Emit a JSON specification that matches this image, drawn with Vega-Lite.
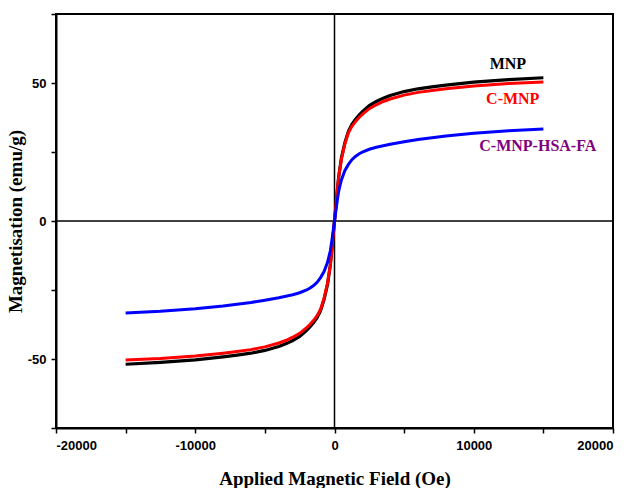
{
  "$schema": "https://vega.github.io/schema/vega-lite/v6.json",
  "autosize": "none",
  "width": 557,
  "height": 414,
  "padding": {"left": 56, "top": 14, "right": 20, "bottom": 60},
  "background": "white",
  "config": {"view": {"stroke": "black", "strokeWidth": 2}},
  "datasets": {
    "curves": [
      {"s": "MNP", "H": -15000, "M": -51.9}, {"s": "MNP", "H": -12500, "M": -51.2}, {"s": "MNP", "H": -10000, "M": -50.3}, {"s": "MNP", "H": -8000, "M": -49.2}, {"s": "MNP", "H": -7000, "M": -48.6}, {"s": "MNP", "H": -6000, "M": -47.9}, {"s": "MNP", "H": -5000, "M": -46.9}, {"s": "MNP", "H": -4000, "M": -45.5}, {"s": "MNP", "H": -3500, "M": -44.5}, {"s": "MNP", "H": -3000, "M": -43.3}, {"s": "MNP", "H": -2500, "M": -41.8}, {"s": "MNP", "H": -2000, "M": -39.6}, {"s": "MNP", "H": -1750, "M": -38.3}, {"s": "MNP", "H": -1500, "M": -36.8}, {"s": "MNP", "H": -1250, "M": -35}, {"s": "MNP", "H": -1000, "M": -32.5}, {"s": "MNP", "H": -750, "M": -28.5}, {"s": "MNP", "H": -500, "M": -23}, {"s": "MNP", "H": -300, "M": -16}, {"s": "MNP", "H": -200, "M": -11}, {"s": "MNP", "H": -100, "M": -5.5},
      {"s": "MNP", "H": 0, "M": 0},
      {"s": "MNP", "H": 100, "M": 5.5}, {"s": "MNP", "H": 200, "M": 11}, {"s": "MNP", "H": 300, "M": 16}, {"s": "MNP", "H": 500, "M": 23}, {"s": "MNP", "H": 750, "M": 28.5}, {"s": "MNP", "H": 1000, "M": 32.5}, {"s": "MNP", "H": 1250, "M": 35}, {"s": "MNP", "H": 1500, "M": 36.8}, {"s": "MNP", "H": 1750, "M": 38.3}, {"s": "MNP", "H": 2000, "M": 39.6}, {"s": "MNP", "H": 2500, "M": 41.8}, {"s": "MNP", "H": 3000, "M": 43.3}, {"s": "MNP", "H": 3500, "M": 44.5}, {"s": "MNP", "H": 4000, "M": 45.5}, {"s": "MNP", "H": 5000, "M": 46.9}, {"s": "MNP", "H": 6000, "M": 47.9}, {"s": "MNP", "H": 7000, "M": 48.6}, {"s": "MNP", "H": 8000, "M": 49.2}, {"s": "MNP", "H": 10000, "M": 50.3}, {"s": "MNP", "H": 12500, "M": 51.2}, {"s": "MNP", "H": 15000, "M": 51.9},

      {"s": "C-MNP", "H": -15000, "M": -50.4}, {"s": "C-MNP", "H": -12500, "M": -49.8}, {"s": "C-MNP", "H": -10000, "M": -48.9}, {"s": "C-MNP", "H": -8000, "M": -47.9}, {"s": "C-MNP", "H": -7000, "M": -47.3}, {"s": "C-MNP", "H": -6000, "M": -46.6}, {"s": "C-MNP", "H": -5000, "M": -45.6}, {"s": "C-MNP", "H": -4000, "M": -44.2}, {"s": "C-MNP", "H": -3500, "M": -43.3}, {"s": "C-MNP", "H": -3000, "M": -42.1}, {"s": "C-MNP", "H": -2500, "M": -40.7}, {"s": "C-MNP", "H": -2000, "M": -38.6}, {"s": "C-MNP", "H": -1750, "M": -37.4}, {"s": "C-MNP", "H": -1500, "M": -36}, {"s": "C-MNP", "H": -1250, "M": -34.3}, {"s": "C-MNP", "H": -1000, "M": -32}, {"s": "C-MNP", "H": -750, "M": -28}, {"s": "C-MNP", "H": -500, "M": -22.5}, {"s": "C-MNP", "H": -300, "M": -16}, {"s": "C-MNP", "H": -200, "M": -11}, {"s": "C-MNP", "H": -100, "M": -5.5},
      {"s": "C-MNP", "H": 0, "M": 0},
      {"s": "C-MNP", "H": 100, "M": 5.5}, {"s": "C-MNP", "H": 200, "M": 11}, {"s": "C-MNP", "H": 300, "M": 16}, {"s": "C-MNP", "H": 500, "M": 22.5}, {"s": "C-MNP", "H": 750, "M": 28}, {"s": "C-MNP", "H": 1000, "M": 32}, {"s": "C-MNP", "H": 1250, "M": 34.3}, {"s": "C-MNP", "H": 1500, "M": 36}, {"s": "C-MNP", "H": 1750, "M": 37.4}, {"s": "C-MNP", "H": 2000, "M": 38.6}, {"s": "C-MNP", "H": 2500, "M": 40.7}, {"s": "C-MNP", "H": 3000, "M": 42.1}, {"s": "C-MNP", "H": 3500, "M": 43.3}, {"s": "C-MNP", "H": 4000, "M": 44.2}, {"s": "C-MNP", "H": 5000, "M": 45.6}, {"s": "C-MNP", "H": 6000, "M": 46.6}, {"s": "C-MNP", "H": 7000, "M": 47.3}, {"s": "C-MNP", "H": 8000, "M": 47.9}, {"s": "C-MNP", "H": 10000, "M": 48.9}, {"s": "C-MNP", "H": 12500, "M": 49.8}, {"s": "C-MNP", "H": 15000, "M": 50.4},

      {"s": "C-MNP-HSA-FA", "H": -15000, "M": -33.3}, {"s": "C-MNP-HSA-FA", "H": -12500, "M": -32.7}, {"s": "C-MNP-HSA-FA", "H": -10000, "M": -31.8}, {"s": "C-MNP-HSA-FA", "H": -8000, "M": -30.8}, {"s": "C-MNP-HSA-FA", "H": -6000, "M": -29.5}, {"s": "C-MNP-HSA-FA", "H": -5000, "M": -28.7}, {"s": "C-MNP-HSA-FA", "H": -4000, "M": -27.8}, {"s": "C-MNP-HSA-FA", "H": -3000, "M": -26.7}, {"s": "C-MNP-HSA-FA", "H": -2500, "M": -26}, {"s": "C-MNP-HSA-FA", "H": -2000, "M": -25}, {"s": "C-MNP-HSA-FA", "H": -1750, "M": -24.3}, {"s": "C-MNP-HSA-FA", "H": -1500, "M": -23.4}, {"s": "C-MNP-HSA-FA", "H": -1250, "M": -22.2}, {"s": "C-MNP-HSA-FA", "H": -1000, "M": -20.5}, {"s": "C-MNP-HSA-FA", "H": -750, "M": -18.3}, {"s": "C-MNP-HSA-FA", "H": -500, "M": -15}, {"s": "C-MNP-HSA-FA", "H": -300, "M": -10.8}, {"s": "C-MNP-HSA-FA", "H": -200, "M": -7.5}, {"s": "C-MNP-HSA-FA", "H": -100, "M": -3.8},
      {"s": "C-MNP-HSA-FA", "H": 0, "M": 0},
      {"s": "C-MNP-HSA-FA", "H": 100, "M": 3.8}, {"s": "C-MNP-HSA-FA", "H": 200, "M": 7.5}, {"s": "C-MNP-HSA-FA", "H": 300, "M": 10.8}, {"s": "C-MNP-HSA-FA", "H": 500, "M": 15}, {"s": "C-MNP-HSA-FA", "H": 750, "M": 18.3}, {"s": "C-MNP-HSA-FA", "H": 1000, "M": 20.5}, {"s": "C-MNP-HSA-FA", "H": 1250, "M": 22.2}, {"s": "C-MNP-HSA-FA", "H": 1500, "M": 23.4}, {"s": "C-MNP-HSA-FA", "H": 1750, "M": 24.3}, {"s": "C-MNP-HSA-FA", "H": 2000, "M": 25}, {"s": "C-MNP-HSA-FA", "H": 2500, "M": 26}, {"s": "C-MNP-HSA-FA", "H": 3000, "M": 26.7}, {"s": "C-MNP-HSA-FA", "H": 4000, "M": 27.8}, {"s": "C-MNP-HSA-FA", "H": 5000, "M": 28.7}, {"s": "C-MNP-HSA-FA", "H": 6000, "M": 29.5}, {"s": "C-MNP-HSA-FA", "H": 8000, "M": 30.8}, {"s": "C-MNP-HSA-FA", "H": 10000, "M": 31.8}, {"s": "C-MNP-HSA-FA", "H": 12500, "M": 32.7}, {"s": "C-MNP-HSA-FA", "H": 15000, "M": 33.3}
    ],
    "labels": [
      {"label": "MNP", "H": 12450, "M": 56.8, "c": "black"},
      {"label": "C-MNP", "H": 12800, "M": 44.2, "c": "red"},
      {"label": "C-MNP-HSA-FA", "H": 14600, "M": 27.3, "c": "purple"}
    ],
    "zero": [{"v": 0}]
  },
  "layer": [
    {
      "data": {"name": "zero"},
      "mark": {"type": "rule", "color": "black", "strokeWidth": 1.5},
      "encoding": {
        "x": {"field": "v", "type": "quantitative", "scale": {"domain": [-20000, 20000], "nice": false},
          "axis": {"title": "Applied Magnetic Field (Oe)", "values": [-20000, -15000, -10000, -5000, 0, 5000, 10000, 15000, 20000],
            "labelExpr": "datum.value % 10000 == 0 ? '' + datum.value : ''",
            "grid": false, "domainColor": "black", "domainWidth": 2, "tickColor": "black", "tickWidth": 1.5, "tickSize": 5,
            "labelFont": "Liberation Sans", "labelFontWeight": "bold", "labelFontSize": 13, "labelColor": "black", "labelPadding": 6,
            "titleFont": "Liberation Serif", "titleFontWeight": "bold", "titleFontSize": 19, "titleColor": "black", "titlePadding": 17}}
      }
    },
    {
      "data": {"name": "zero"},
      "mark": {"type": "rule", "color": "black", "strokeWidth": 1.5},
      "encoding": {
        "y": {"field": "v", "type": "quantitative", "scale": {"domain": [-75, 75], "nice": false},
          "axis": {"title": "Magnetisation (emu/g)", "values": [-75, -50, -25, 0, 25, 50, 75],
            "labelExpr": "datum.value % 50 == 0 ? '' + datum.value : ''",
            "grid": false, "domainColor": "black", "domainWidth": 2, "tickColor": "black", "tickWidth": 1.5, "tickSize": 5,
            "labelFont": "Liberation Sans", "labelFontWeight": "bold", "labelFontSize": 13, "labelColor": "black", "labelPadding": 5,
            "titleFont": "Liberation Serif", "titleFontWeight": "bold", "titleFontSize": 19, "titleColor": "black", "titlePadding": 2}}
      }
    },
    {
      "data": {"name": "curves"},
      "transform": [{"filter": "datum.s == 'MNP'"}],
      "mark": {"type": "line", "color": "black", "strokeWidth": 3.2},
      "encoding": {"x": {"field": "H", "type": "quantitative"}, "y": {"field": "M", "type": "quantitative"}, "order": {"field": "H"}}
    },
    {
      "data": {"name": "curves"},
      "transform": [{"filter": "datum.s == 'C-MNP'"}],
      "mark": {"type": "line", "color": "#ff0000", "strokeWidth": 3},
      "encoding": {"x": {"field": "H", "type": "quantitative"}, "y": {"field": "M", "type": "quantitative"}, "order": {"field": "H"}}
    },
    {
      "data": {"name": "curves"},
      "transform": [{"filter": "datum.s == 'C-MNP-HSA-FA'"}],
      "mark": {"type": "line", "color": "#0000ff", "strokeWidth": 3},
      "encoding": {"x": {"field": "H", "type": "quantitative"}, "y": {"field": "M", "type": "quantitative"}, "order": {"field": "H"}}
    },
    {
      "data": {"name": "labels"},
      "mark": {"type": "text", "font": "Liberation Serif", "fontWeight": "bold", "fontSize": 16, "align": "center", "baseline": "middle"},
      "encoding": {
        "x": {"field": "H", "type": "quantitative"},
        "y": {"field": "M", "type": "quantitative"},
        "text": {"field": "label"},
        "color": {"field": "c", "type": "nominal", "scale": {"domain": ["black", "red", "purple"], "range": ["#000000", "#ff0000", "#800080"]}, "legend": null}
      }
    }
  ]
}
